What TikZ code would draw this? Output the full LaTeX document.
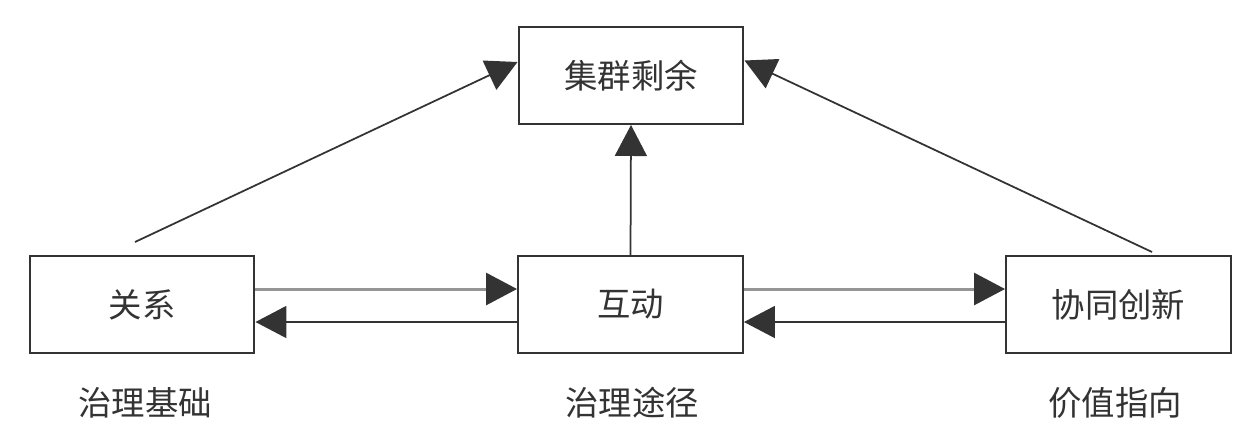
\documentclass[tikz,border=0pt]{standalone}
\usepackage{fontspec}
\newfontfamily\cjk{Noto Sans CJK SC}
\usetikzlibrary{arrows.meta}
\definecolor{ink}{HTML}{333333}
\definecolor{lgray}{HTML}{959595}
\begin{document}
\begin{tikzpicture}[x=0.02cm,y=-0.02cm,
  box/.style={draw=ink,line width=0.04cm,rectangle,minimum width=4.5cm,minimum height=1.94cm,
    inner sep=0pt,font=\cjk\fontsize{19}{19}\selectfont,text=ink},
  lab/.style={font=\cjk\fontsize{19}{19}\selectfont,text=ink,inner sep=0pt},
  tip/.style={-{Triangle[length=0.62cm,width=0.64cm,color=ink]}},
  fwd/.style={tip,draw=lgray,line width=0.06cm},
  back/.style={tip,draw=ink,line width=0.04cm},
  diag/.style={tip,draw=ink,line width=0.035cm}]
\useasboundingbox[fill=white] (0,0) rectangle (1250,430);
\node[box] (top) at (631,75.5) {集群剩余};
\node[box] (rel) at (142,304.5) {关系};
\node[box] (int) at (630.5,304.5) {互动};
\node[box] (inn) at (1118.5,304.5) {协同创新};
\node[lab] (l1) at (145,403) {治理基础};
\node[lab] (l2) at (632,403) {治理途径};
\node[lab] (l3) at (1115,403) {价值指向};
\coordinate (ls) at (135,242);
\coordinate (rs) at (1152,252);
\draw[fwd] ([yshift=0.31cm]rel.east) -- ([yshift=0.31cm]int.west);
\draw[back] ([yshift=-0.35cm]int.west) -- ([yshift=-0.35cm]rel.east);
\draw[fwd] ([yshift=0.31cm]int.east) -- ([yshift=0.31cm]inn.west);
\draw[back] ([yshift=-0.35cm]inn.west) -- ([yshift=-0.35cm]int.east);
\draw[diag] (ls) -- ([yshift=0.27cm]top.west);
\draw[diag] (rs) -- ([yshift=0.3cm]top.east);
\draw[diag] (int.north) -- (top.south);
\end{tikzpicture}
\end{document}
